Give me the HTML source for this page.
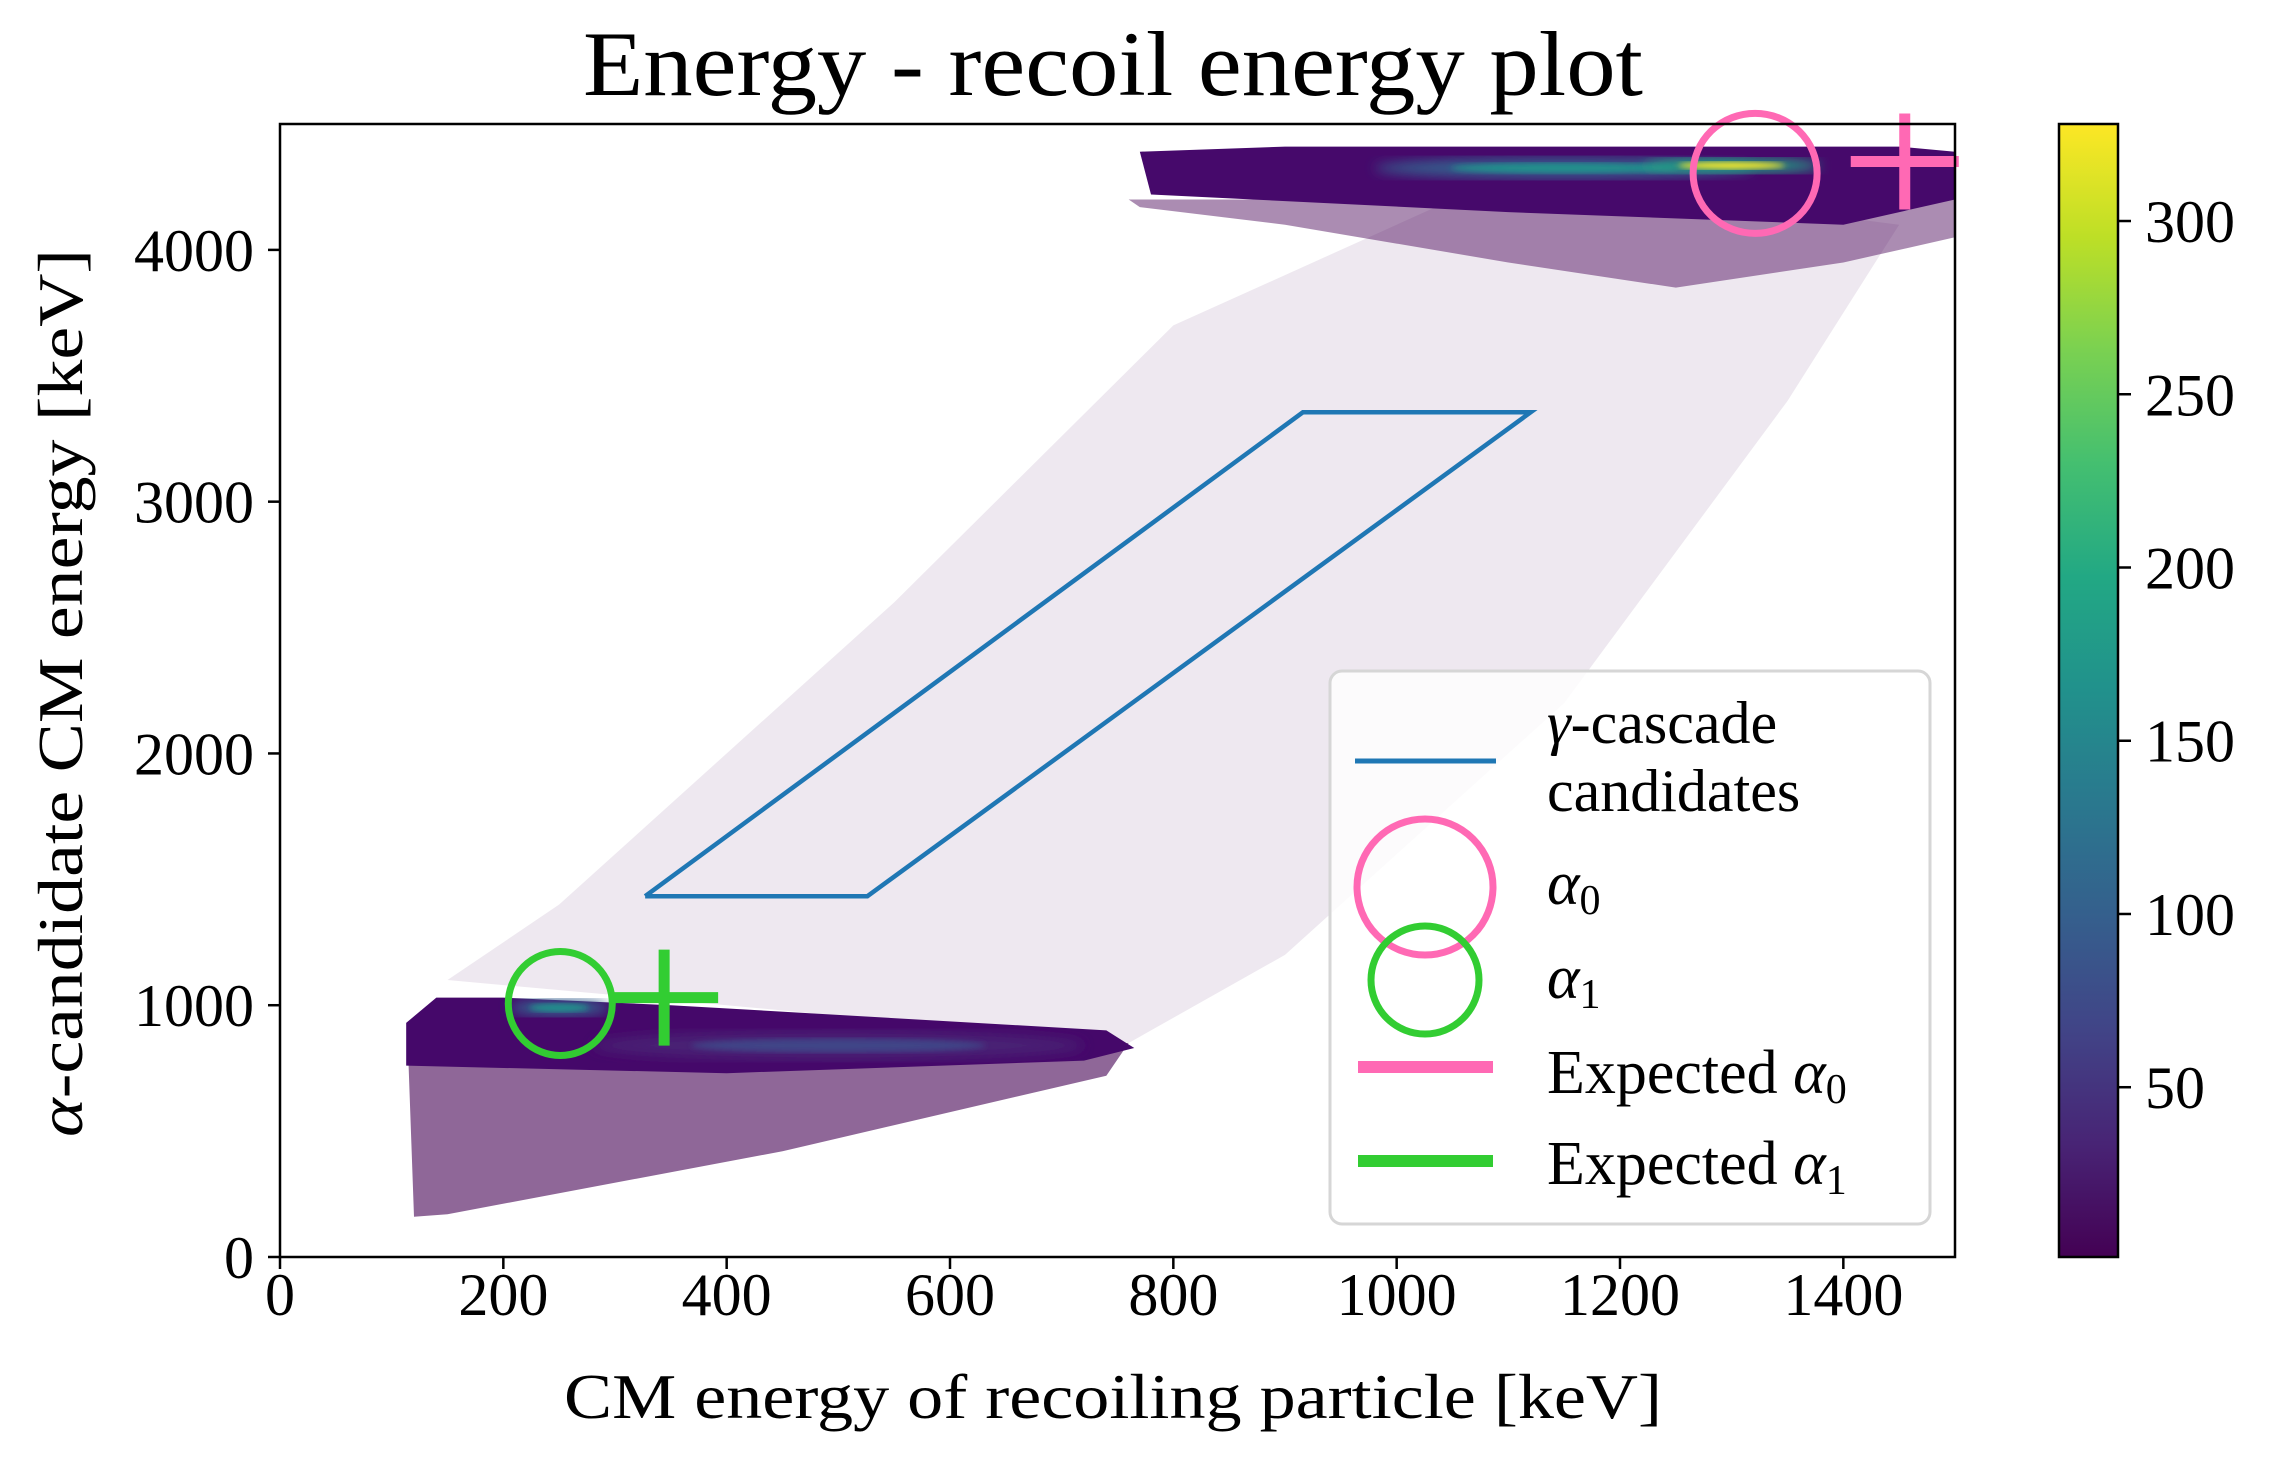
<!DOCTYPE html>
<html><head><meta charset="utf-8"><style>
html,body{margin:0;padding:0;background:#fff}
svg{display:block}
text{font-family:"Liberation Serif","DejaVu Serif",serif;fill:#000}
</style></head><body>
<svg id="chart" width="2272" height="1466" viewBox="0 0 2272 1466">
<defs>
<linearGradient id="viridis" x1="0" y1="1" x2="0" y2="0">
<stop offset="0" stop-color="#440154"/><stop offset="0.1" stop-color="#482475"/><stop offset="0.2" stop-color="#414487"/><stop offset="0.3" stop-color="#355f8d"/><stop offset="0.4" stop-color="#2a788e"/><stop offset="0.5" stop-color="#21918c"/><stop offset="0.6" stop-color="#22a884"/><stop offset="0.7" stop-color="#44bf70"/><stop offset="0.8" stop-color="#7ad151"/><stop offset="0.9" stop-color="#bddf26"/><stop offset="1" stop-color="#fde725"/>
</linearGradient>
<clipPath id="plotclip"><rect x="280" y="124" width="1675" height="1133"/></clipPath>
<filter id="blur8"><feGaussianBlur stdDeviation="6"/></filter>
<filter id="blur4"><feGaussianBlur stdDeviation="3"/></filter>
</defs>
<text x="1113" y="95" font-size="92" text-anchor="middle" textLength="1060" lengthAdjust="spacingAndGlyphs">Energy - recoil energy plot</text>
<g id="plot" clip-path="url(#plotclip)"></g>
<g id="overlay"></g>
<rect x="280" y="124" width="1675" height="1133" fill="none" stroke="#000" stroke-width="2.5"/>
<g id="axes"></g>
<text x="1113" y="1418" font-size="64" text-anchor="middle" textLength="1098" lengthAdjust="spacingAndGlyphs">CM energy of recoiling particle [keV]</text>
<text transform="translate(82,693) rotate(-90)" font-size="64" text-anchor="middle" textLength="888" lengthAdjust="spacingAndGlyphs"><tspan font-style="italic">α</tspan>-candidate CM energy [keV]</text>
<g>
<rect x="1330" y="671" width="600" height="553" rx="12" fill="#fff" fill-opacity="0.8" stroke="#d6d6d6" stroke-width="3"/>
<line x1="1355" y1="761" x2="1496" y2="761" stroke="#1f77b4" stroke-width="5"/>
<text x="1547" y="743" font-size="60"><tspan font-style="italic">γ</tspan>-cascade</text>
<text x="1547" y="811" font-size="60">candidates</text>
<circle cx="1425" cy="887" r="68" fill="none" stroke="#ff69b4" stroke-width="7"/>
<text x="1547" y="904" font-size="62" font-style="italic">α<tspan font-size="42" font-style="normal" dy="10">0</tspan></text>
<circle cx="1425" cy="980" r="54" fill="none" stroke="#32cd32" stroke-width="7"/>
<text x="1547" y="998" font-size="62" font-style="italic">α<tspan font-size="42" font-style="normal" dy="10">1</tspan></text>
<line x1="1358" y1="1067" x2="1493" y2="1067" stroke="#ff69b4" stroke-width="12"/>
<text x="1547" y="1093" font-size="62">Expected <tspan font-style="italic">α</tspan><tspan font-size="42" dy="10">0</tspan></text>
<line x1="1358" y1="1161" x2="1493" y2="1161" stroke="#32cd32" stroke-width="12"/>
<text x="1547" y="1184" font-size="62">Expected <tspan font-style="italic">α</tspan><tspan font-size="42" dy="10">1</tspan></text>
</g>
<rect x="2059" y="124" width="59" height="1133" fill="url(#viridis)" stroke="#000" stroke-width="2.5"/>
<g id="cbar"></g>
</svg>
<script>
// axis domains
const xDomain = [0, 1500];
const yDomain = [0, 4500];
const xTicks = [0, 200, 400, 600, 800, 1000, 1200, 1400];
const yTicks = [0, 1000, 2000, 3000, 4000];
const cbarDomain = [1, 328];
const cbarTicks = [50, 100, 150, 200, 250, 300];
// heatmap regions (data coords) and counts
const sparseBandX = [250, 150, 400, 760, 900, 1150, 1350, 1450, 1100, 800, 550];
const sparseBandY = [1400, 1100, 1000, 850, 1200, 2200, 3400, 4100, 4300, 3700, 2600];
const lowerSparseX = [115, 300, 760, 740, 450, 150, 120];
const lowerSparseY = [780, 780, 850, 720, 420, 170, 160];
const lowerDenseX = [113, 140, 200, 350, 740, 765, 720, 400, 113];
const lowerDenseY = [930, 1030, 1030, 1000, 900, 830, 780, 730, 760];
const upperSparseX = [760, 1500, 1500, 1400, 1250, 1100, 900, 770];
const upperSparseY = [4200, 4200, 4050, 3950, 3850, 3950, 4100, 4170];
const upperDenseX = [770, 900, 1450, 1500, 1500, 1400, 1100, 780];
const upperDenseY = [4390, 4410, 4410, 4390, 4200, 4100, 4150, 4220];
const hotX = [1300, 1150, 250, 500];
const hotY = [4335, 4325, 990, 840];
const hotRx = [80, 170, 45, 220];
const hotRy = [28, 40, 32, 55];
const hotCount = [320, 180, 160, 55];
// gamma cascade gate
const gateX = [327, 526, 1120, 916, 327];
const gateY = [1433, 1433, 3355, 3355, 1433];
// markers
const alpha0 = [1321, 4304];
const alpha1 = [251, 1007];
const expAlpha0 = [1455, 4351];
const expAlpha1 = [344, 1030];

const PX0 = 280, PX1 = 1955, PY0 = 1257, PY1 = 124;
const sx = v => PX0 + (v - xDomain[0]) / (xDomain[1] - xDomain[0]) * (PX1 - PX0);
const sy = v => PY0 - (v - yDomain[0]) / (yDomain[1] - yDomain[0]) * (PY0 - PY1);
const sc = v => 1257 - (v - cbarDomain[0]) / (cbarDomain[1] - cbarDomain[0]) * 1133;
const NS = 'http://www.w3.org/2000/svg';
function mk(tag, attrs, parent) { const e = document.createElementNS(NS, tag); for (const k in attrs) e.setAttribute(k, attrs[k]); parent.appendChild(e); return e; }
const stops = ['#440154','#482475','#414487','#355f8d','#2a788e','#21918c','#22a884','#44bf70','#7ad151','#bddf26','#fde725'];
function viridis(c) { let t = (c - cbarDomain[0]) / (cbarDomain[1] - cbarDomain[0]); t = Math.max(0, Math.min(1, t)); return stops[Math.round(t * 10)]; }
function pts(xs, ys) { return xs.map((x, i) => sx(x) + ',' + sy(ys[i])).join(' '); }

const plot = document.getElementById('plot');
let p;
p = mk('polygon', {points: pts(sparseBandX, sparseBandY), fill: '#440154', 'fill-opacity': 0.09}, plot);


p = mk('polygon', {points: pts(lowerSparseX, lowerSparseY), fill: '#440154', 'fill-opacity': 0.6}, plot);


p = mk('polygon', {points: pts(upperSparseX, upperSparseY), fill: '#440154', 'fill-opacity': 0.45}, plot);


p = mk('polygon', {points: pts(lowerDenseX, lowerDenseY), fill: '#45086a'}, plot);


p = mk('polygon', {points: pts(upperDenseX, upperDenseY), fill: '#46096b'}, plot);


for (let i = hotX.length - 1; i >= 0; i--) {
  const rx = hotRx[i] / (xDomain[1] - xDomain[0]) * (PX1 - PX0);
  const ry = hotRy[i] / (yDomain[1] - yDomain[0]) * (PY0 - PY1);
  const e = mk('ellipse', {cx: sx(hotX[i]), cy: sy(hotY[i]), rx: rx, ry: ry, fill: viridis(hotCount[i] * 0.6), filter: 'url(#blur8)'}, plot);
  
  
  const e2 = mk('ellipse', {cx: sx(hotX[i]), cy: sy(hotY[i]), rx: rx * 0.6, ry: ry * 0.5, fill: viridis(hotCount[i]), filter: 'url(#blur4)'}, plot);
  
  
}
p = mk('polyline', {points: pts(gateX, gateY), fill: 'none', stroke: '#1f77b4', 'stroke-width': 4.5}, plot);



const ov = document.getElementById('overlay');
p = mk('ellipse', {cx: sx(alpha0[0]), cy: sy(alpha0[1]), rx: 62, ry: 60, fill: 'none', stroke: '#ff69b4', 'stroke-width': 7}, ov);


p = mk('ellipse', {cx: sx(alpha1[0]), cy: sy(alpha1[1]), rx: 52, ry: 52, fill: 'none', stroke: '#32cd32', 'stroke-width': 7}, ov);


function plus(c, col, name) {
  const g = mk('g', {stroke: col, 'stroke-width': 11}, ov);
  
  
  mk('line', {x1: sx(c[0]) - 54, y1: sy(c[1]), x2: sx(c[0]) + 54, y2: sy(c[1])}, g);
  mk('line', {x1: sx(c[0]), y1: sy(c[1]) - 48, x2: sx(c[0]), y2: sy(c[1]) + 48}, g);
}
plus(expAlpha0, '#ff69b4', 'expected-alpha0-marker');
plus(expAlpha1, '#32cd32', 'expected-alpha1-marker');

const ax = document.getElementById('axes');
xTicks.forEach(v => {
  const l = mk('line', {x1: sx(v), y1: 1257, x2: sx(v), y2: 1269, stroke: '#000', 'stroke-width': 2.5}, ax);
  
  
  const t = mk('text', {x: sx(v), y: 1315, 'font-size': 60, 'text-anchor': 'middle'}, ax);
  t.textContent = v;
  
  
});
yTicks.forEach(v => {
  const l = mk('line', {x1: 268, y1: sy(v), x2: 280, y2: sy(v), stroke: '#000', 'stroke-width': 2.5}, ax);
  
  
  const t = mk('text', {x: 254, y: sy(v) + 21, 'font-size': 60, 'text-anchor': 'end'}, ax);
  t.textContent = v;
  
  
});
const cb = document.getElementById('cbar');
cbarTicks.forEach(v => {
  const l = mk('line', {x1: 2118, y1: sc(v), x2: 2131, y2: sc(v), stroke: '#000', 'stroke-width': 2.5}, cb);
  
  
  const t = mk('text', {x: 2145, y: sc(v) + 21, 'font-size': 60}, cb);
  t.textContent = v;
  
  
});
</script>
</body></html>
